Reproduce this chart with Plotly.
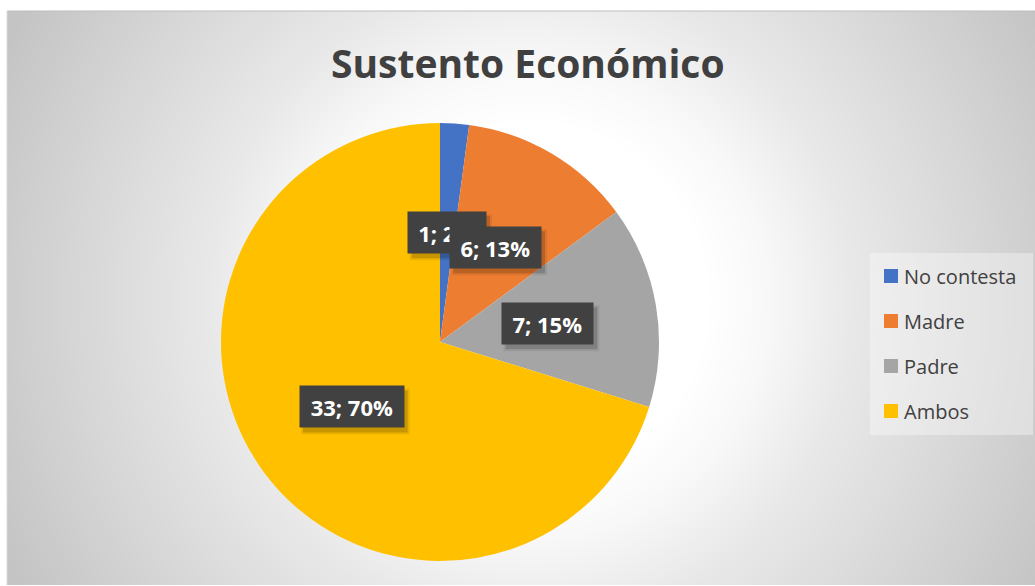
import base64
import math
import struct
import zlib

import numpy as np
import plotly.graph_objects as go

# ---- data ----
categories = ["No contesta", "Madre", "Padre", "Ambos"]
counts = [1, 6, 7, 33]
slice_colors = ["#4472C4", "#ED7D31", "#A5A5A5", "#FFC000"]
title_text = "Sustento Económico"

W, H = 1035, 586
FONT = "Open Sans"
TEXT_COL = "#404040"


def px(x):
    return x / W


def py(y):
    return 1 - y / H


def png_gray(arr):
    """Encode a 2-D uint8 array as a grayscale PNG data URI."""
    h, w = arr.shape
    raw = b"".join(b"\x00" + arr[r].tobytes() for r in range(h))

    def chunk(tag, data):
        c = struct.pack(">I", len(data)) + tag + data
        return c + struct.pack(">I", zlib.crc32(tag + data) & 0xFFFFFFFF)

    png = b"\x89PNG\r\n\x1a\n"
    png += chunk(b"IHDR", struct.pack(">IIBBBBB", w, h, 8, 0, 0, 0, 0))
    png += chunk(b"IDAT", zlib.compress(raw, 9))
    png += chunk(b"IEND", b"")
    return "data:image/png;base64," + base64.b64encode(png).decode()


# chart-area background: radial white-to-grey gradient
ax0, ay0, ax1, ay1 = 7, 11, W, 585
gw, gh = ax1 - ax0, ay1 - ay0
yy, xx = np.mgrid[0:gh, 0:gw]
gcx, gcy = 530 - ax0, 300 - ay0
d = np.hypot(xx - gcx, yy - gcy)
shade = np.interp(d, [0, 180, 240, 320, 430, 580, 700],
                  [255, 255, 248, 233, 218, 197, 195])
bg_src = png_gray(shade.astype(np.uint8))

# pie geometry (pixels)
cx, cy, R = 440, 342, 219

fig = go.Figure(
    go.Pie(
        labels=categories,
        values=counts,
        marker=dict(colors=slice_colors, line=dict(width=0)),
        sort=False,
        direction="clockwise",
        rotation=0,
        textinfo="none",
        hoverinfo="label+value+percent",
        showlegend=False,
        domain=dict(x=[px(cx - R), px(cx + R)], y=[py(cy + R), py(cy - R)]),
    )
)

annotations = []
shapes = []

# data labels "value; percent" in dark boxes at half radius
total = sum(counts)
cum = 0
BOX_H = 41
for v in counts:
    mid = (cum + v / 2) / total
    cum += v
    th = 2 * math.pi * mid
    lx = cx + 0.5 * R * math.sin(th)
    ly = cy - 0.5 * R * math.cos(th)
    plain = f"{v}; {round(100 * v / total)}%"
    bw = 13.1 * len(plain) + 12
    # soft drop shadow behind the box
    for grow, a in ((2, 0.07), (0, 0.16)):
        shapes.append(dict(
            type="rect", xref="paper", yref="paper", layer="above",
            x0=px(lx - bw / 2 + 3 - grow), x1=px(lx + bw / 2 + 4 + grow),
            y0=py(ly + BOX_H / 2 + 5 + grow), y1=py(ly - BOX_H / 2 + 4 - grow),
            fillcolor=f"rgba(0,0,0,{a})", line=dict(width=0),
        ))
    annotations.append(dict(
        x=px(lx), y=py(ly), xref="paper", yref="paper",
        text=f"<b>{plain}</b>", showarrow=False,
        xanchor="center", yanchor="middle", align="center", valign="middle",
        width=bw, height=BOX_H, borderpad=0,
        font=dict(family=FONT, size=22, color="white"),
        bgcolor="#414141",
    ))

# title
annotations.append(dict(
    x=px(528), y=py(62), xref="paper", yref="paper",
    xanchor="center", yanchor="middle",
    text=f"<b>{title_text}</b>", showarrow=False,
    font=dict(family=FONT, size=39, color=TEXT_COL),
))

# legend panel and entries
shapes.append(dict(
    type="rect", xref="paper", yref="paper",
    x0=px(870), x1=px(1033), y0=py(435), y1=py(253),
    fillcolor="rgba(255,255,255,0.35)", line=dict(width=0), layer="below",
))
for i, (name, col) in enumerate(zip(categories, slice_colors)):
    yc = 276 + 45 * i
    shapes.append(dict(
        type="rect", xref="paper", yref="paper",
        x0=px(884), x1=px(898), y0=py(yc + 7), y1=py(yc - 7),
        fillcolor=col, line=dict(width=0),
    ))
    annotations.append(dict(
        x=px(902), y=py(yc), xref="paper", yref="paper", text=name,
        showarrow=False, xanchor="left", yanchor="middle",
        font=dict(family=FONT, size=20, color=TEXT_COL),
    ))

# chart-area top/left border
shapes.append(dict(
    type="line", xref="paper", yref="paper",
    x0=px(ax0), x1=1, y0=py(ay0), y1=py(ay0),
    line=dict(color="#bdbdbd", width=1),
))
shapes.append(dict(
    type="line", xref="paper", yref="paper",
    x0=px(ax0), x1=px(ax0), y0=py(ay0), y1=py(ay1),
    line=dict(color="#d9d9d9", width=1),
))

fig.update_layout(
    width=W, height=H,
    margin=dict(l=0, r=0, t=0, b=0),
    paper_bgcolor="white",
    plot_bgcolor="white",
    showlegend=False,
    annotations=annotations,
    shapes=shapes,
    images=[dict(
        source=bg_src, xref="paper", yref="paper",
        x=px(ax0), y=py(ay0), sizex=px(ax1) - px(ax0), sizey=py(ay0) - py(ay1),
        xanchor="left", yanchor="top", sizing="stretch", layer="below",
    )],
)

fig.write_html("out.html")
